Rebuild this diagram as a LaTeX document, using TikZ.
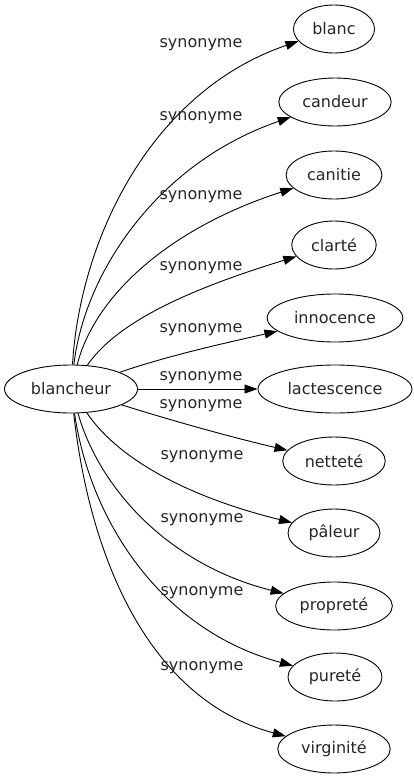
\documentclass[tikz,border=0pt]{standalone}
\usepackage{fontspec}
\setmainfont{DejaVu Sans}
\usetikzlibrary{arrows.meta,shapes.geometric}

\begin{document}
\begin{tikzpicture}[x=1pt,y=-1pt,
		word/.style={draw,ellipse,line width=0.9pt,minimum height=48pt,inner xsep=7pt,text=black!85,font=\fontsize{16pt}{19pt}\selectfont},
		syn/.style={line width=0.9pt,-{Triangle[length=13pt,width=9pt]}},
		lbl/.style={text=black!85,font=\fontsize{16pt}{19pt}\selectfont,inner sep=0pt}]
		\useasboundingbox (0,0) rectangle (413,779);
		\node[word] (bl) at (71,389) {blancheur};
		\node[word] (blanc) at (334,29) {blanc};
		\node[word] (cand) at (335,102) {candeur};
		\node[word] (canit) at (334,175) {canitie};
		\node[word] (clar) at (334,245) {clarté};
		\node[word] (inno) at (335,318) {innocence};
		\node[word] (lact) at (335,389) {lactescence};
		\node[word] (nett) at (334,461) {netteté};
		\node[word] (pal) at (334,533) {pâleur};
		\node[word] (prop) at (334,606) {propreté};
		\node[word] (pur) at (335,677) {pureté};
		\node[word] (virg) at (334,749) {virginité};
		\draw[syn] (bl) .. controls (80,240) and (150,92) .. (blanc);
		\draw[syn] (bl) .. controls (85,270) and (160,162) .. (cand);
		\draw[syn] (bl) .. controls (95,295) and (170,228) .. (canit);
		\draw[syn] (bl) .. controls (115,325) and (180,292) .. (clar);
		\draw[syn] (bl) .. controls (170,355) and (230,342) .. (inno);
		\draw[syn] (bl) -- (lact);
		\draw[syn] (bl) .. controls (170,420) and (230,437) .. (nett);
		\draw[syn] (bl) .. controls (115,455) and (180,495) .. (pal);
		\draw[syn] (bl) .. controls (100,490) and (170,565) .. (prop);
		\draw[syn] (bl) .. controls (90,520) and (160,630) .. (pur);
		\draw[syn] (bl) .. controls (90,560) and (150,700) .. (virg);
		\node[lbl] (l1) at (201,45) {synonyme};
		\node[lbl] (l2) at (201,118) {synonyme};
		\node[lbl] (l3) at (201,197) {synonyme};
		\node[lbl] (l4) at (201,268) {synonyme};
		\node[lbl] (l5) at (201,330) {synonyme};
		\node[lbl] (l6) at (201,378) {synonyme};
		\node[lbl] (l7) at (201,406) {synonyme};
		\node[lbl] (l8) at (202,457) {synonyme};
		\node[lbl] (l9) at (202,520) {synonyme};
		\node[lbl] (l10) at (202,593) {synonyme};
		\node[lbl] (l11) at (202,668) {synonyme};
\end{tikzpicture}
\end{document}
